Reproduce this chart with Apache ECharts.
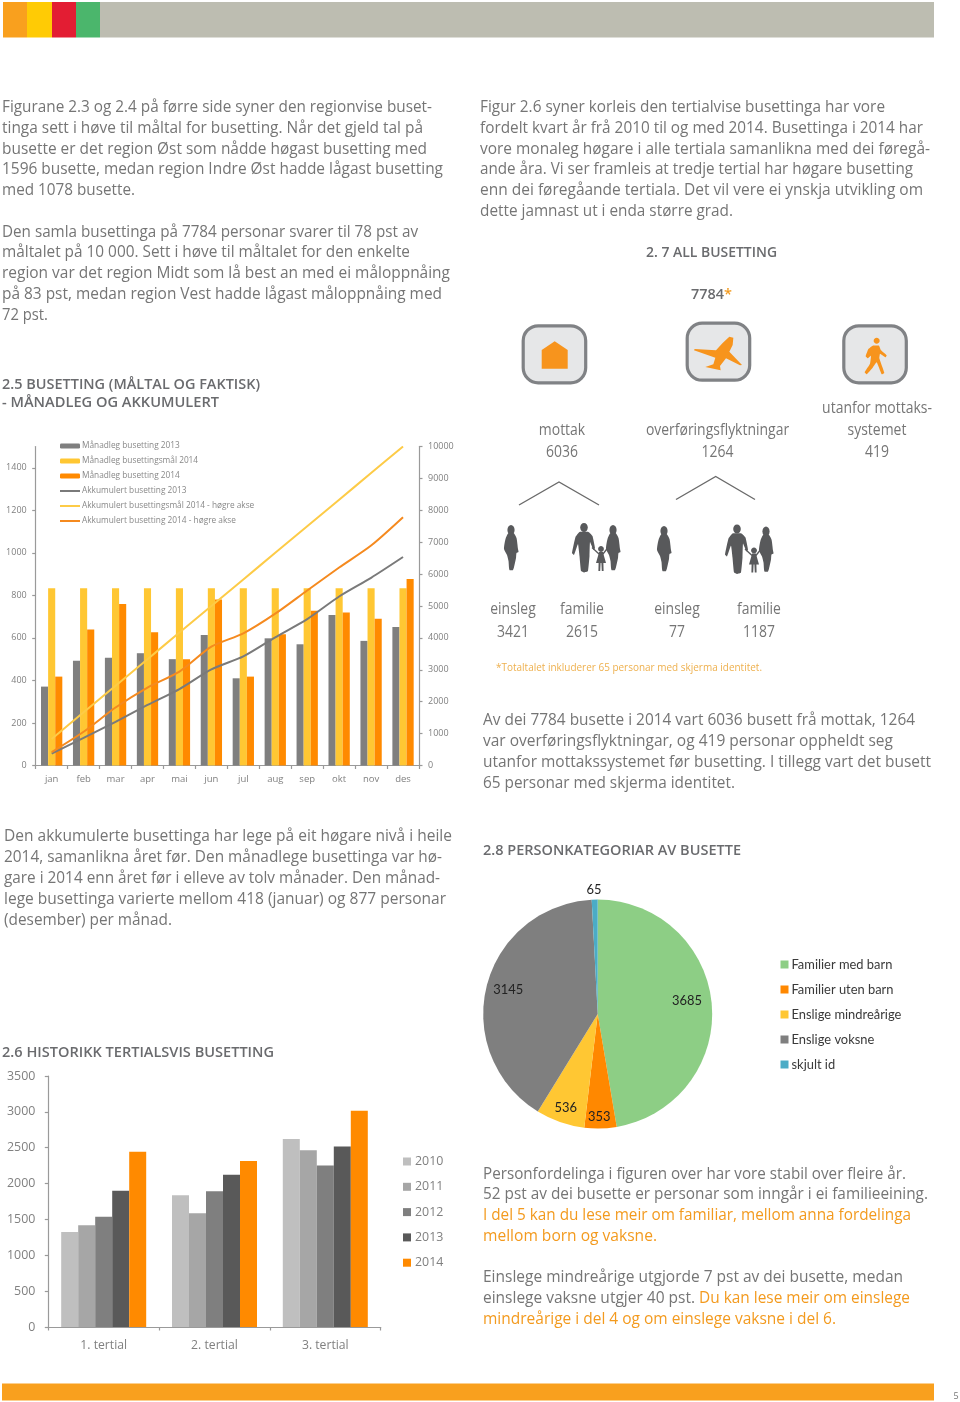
<!DOCTYPE html>
<html><head><meta charset="utf-8">
<style>html,body{margin:0;padding:0;background:#fff}#c{width:960px;height:1402px}</style>
<script src="https://cdn.jsdelivr.net/npm/echarts@6/dist/echarts.min.js"></script>
</head><body><div id="c"></div>
<script>
// ---------- data ----------
const months = ['jan','feb','mar','apr','mai','jun','jul','aug','sep','okt','nov','des'];
const monthly2013 = [371,492,507,528,500,614,410,598,570,708,586,651];
const goal2014 = [833,833,833,833,833,833,833,833,833,833,833,833];
const monthly2014 = [418,640,759,626,500,781,418,617,728,719,690,877];
const cumul2013 = [371,863,1370,1898,2398,3012,3422,4020,4590,5298,5884,6535];
const cumulGoal2014 = [833,1667,2500,3333,4167,5000,5833,6667,7500,8333,9167,10000];
const cumul2014 = [418,1058,1817,2443,2943,3724,4142,4759,5487,6206,6896,7784];
const leftTicks = [0,200,400,600,800,1000,1200,1400];

const tertials = ['1. tertial','2. tertial','3. tertial'];
const t2010 = [1326,1838,2620];
const t2011 = [1419,1587,2466];
const t2012 = [1536,1894,2252];
const t2013 = [1899,2122,2517];
const t2014 = [2443,2313,3015];

const pieNames = ['Familier med barn','Familier uten barn','Enslige mindreårige','Enslige voksne','skjult id'];
const pieValues = [3685,353,536,3145,65];

// ---------- text helpers ----------
const FF = '"Open Sans"';
const GREY = '#757575', HEAD = '#6a6b6e', ORANGE = '#f39a1e';
const DY = 1.3;
const cv = document.createElement('canvas').getContext('2d');
function fit(text, size, weight, width){
  cv.font = (weight||'normal') + ' ' + size + 'px ' + FF;
  return width / cv.measureText(text).width;
}
const bodyScale = fit('Figurane 2.3 og 2.4 på førre side syner den regionvise buset-', 15.5, 'normal', 430.5);
const noteScale = fit('*Totaltalet inkluderer 65 personar med skjerma identitet.', 11.5, 'normal', 266);
const midScale = bodyScale*0.91;

const els = [];
function T(text,x,y,size,opt){
  opt = opt||{};
  els.push({type:'text',x,y:y+DY,scaleX:opt.sx||1,silent:true,z:5,style:{
    text,fontSize:size,fontFamily:FF,fontWeight:opt.w||'normal',fill:opt.c||GREY,
    textAlign:opt.a||'left',textVerticalAlign:'middle'}});
}
const body = (t,x,y,end,c)=>T(t,x,y,15.5,{sx:fit(t,15.5,'normal',end-x),c});
const head = (t,x,y,end)=>T(t,x,y,14.5,{sx:fit(t,14.5,'600',end-x),w:'600',c:HEAD});
const mid = (t,x,y)=>T(t,x,y,15.5,{sx:midScale,a:'center'});

function R(x,y,w,h,fill){
  els.push({type:'rect',silent:true,z:1,shape:{x,y,width:w,height:h},style:{fill}});
}
function P(points,fill,smooth){
  els.push({type:'polygon',silent:true,z:3,shape:{points,smooth:smooth||0},style:{fill}});
}
function C(cx,cy,rx,ry,fill){
  els.push({type:'ellipse',silent:true,z:3,shape:{cx,cy,rx,ry},style:{fill}});
}
function L(points,color,w){
  els.push({type:'polyline',silent:true,z:3,shape:{points},style:{stroke:color,lineWidth:w,fill:null}});
}

// top + bottom bands
R(3,2,24,35.5,'#f9a01e'); R(27,2,25,35.5,'#ffcb05'); R(52,2,24,35.5,'#e31d33'); R(76,2,24,35.5,'#4bb66c');
R(100,2,834,35.5,'#bdbdb1');
R(2,1383.5,932,17,'#f9a01e');
T('5',956,1395,9,{c:'#777',a:'center'});

// paragraphs: text, y, right end of the line
[['Figurane 2.3 og 2.4 på førre side syner den regionvise buset-',106,432],
 ['tinga sett i høve til måltal for busetting. Når det gjeld tal på',127,423],
 ['busette er det region Øst som nådde høgast busetting med',148,427],
 ['1596 busette, medan region Indre Øst hadde lågast busetting',168.5,443],
 ['med 1078 busette.',189,135],
 ['Den samla busettinga på 7784 personar svarer til 78 pst av',231,418],
 ['måltalet på 10 000. Sett i høve til måltalet for den enkelte',251.5,410],
 ['region var det region Midt som lå best an med ei måloppnåing',272.5,450],
 ['på 83 pst, medan region Vest hadde lågast måloppnåing med',293,442],
 ['72 pst.',314,48]].forEach(l=>body(l[0],2,l[1],l[2]));
[['Figur 2.6 syner korleis den tertialvise busettinga har vore',106,885],
 ['fordelt kvart år frå 2010 til og med 2014. Busettinga i 2014 har',127,923],
 ['vore monaleg høgare i alle tertiala samanlikna med dei føregå-',148,930],
 ['ande åra. Vi ser framleis at tredje tertial har høgare busetting',168.5,913],
 ['enn dei føregåande tertiala. Det vil vere ei ynskja utvikling om',189,923],
 ['dette jamnast ut i enda større grad.',210,733]].forEach(l=>body(l[0],480,l[1],l[2]));
[['Av dei 7784 busette i 2014 vart 6036 busett frå mottak, 1264',719,915],
 ['var overføringsflyktningar, og 419 personar oppheldt seg',740,893],
 ['utanfor mottakssystemet før busetting. I tillegg vart det busett',761,931],
 ['65 personar med skjerma identitet.',782,735]].forEach(l=>body(l[0],483,l[1],l[2]));
[['Den akkumulerte busettinga har lege på eit høgare nivå i heile',835,452],
 ['2014, samanlikna året før. Den månadlege busettinga var hø-',856,442],
 ['gare i 2014 enn året før i elleve av tolv månader. Den månad-',877,440],
 ['lege busettinga varierte mellom 418 (januar) og 877 personar',898,446],
 ['(desember) per månad.',919,172]].forEach(l=>body(l[0],4,l[1],l[2]));
body('Personfordelinga i figuren over har vore stabil over fleire år.',483,1173,906);
body('52 pst av dei busette er personar som inngår i ei familieeining.',483,1193,928);
body('I del 5 kan du lese meir om familiar, mellom anna fordelinga',483,1214,911,ORANGE);
body('mellom born og vaksne.',483,1235,657,ORANGE);
body('Einslege mindreårige utgjorde 7 pst av dei busette, medan',483,1276,903);
body('einslege vaksne utgjer 40 pst.',483,1297,695);
body('Du kan lese meir om einslege',699,1297,910,ORANGE);
body('mindreårige i del 4 og om einslege vaksne i del 6.',483,1318,836,ORANGE);

// headings
head('2.5 BUSETTING (MÅLTAL OG FAKTISK)',2,384,260);
head('- MÅNADLEG OG AKKUMULERT',2,402,219);
head('2.6 HISTORIKK TERTIALSVIS BUSETTING',2,1052,274);
head('2.8 PERSONKATEGORIAR AV BUSETTE',483,850,741);
head('2. 7 ALL BUSETTING',646,252,777);
head('7784',691,294,724);
T('*',724,294,14.5,{w:'600',c:ORANGE});

// infographic text
mid('mottak',562,429); mid('6036',562,451);
mid('overføringsflyktningar',717.5,429); mid('1264',717.5,451);
mid('utanfor mottaks-',877,407); mid('systemet',877,429); mid('419',877,451);
mid('einsleg',513,608); mid('3421',513,631);
mid('familie',582,608); mid('2615',582,631);
mid('einsleg',677,608); mid('77',677,631);
mid('familie',759,608); mid('1187',759,631);
T('*Totaltalet inkluderer 65 personar med skjerma identitet.',496,666,11.5,{sx:noteScale,c:'#eeb04e'});

// tree lines
L([[519,505],[559,482],[599,505]],'#6a6a6a',1.4);
L([[676,499.5],[715.7,476.5],[755,499.5]],'#6a6a6a',1.4);

// icon frames
const frame = (x,y)=>els.push({type:'rect',silent:true,z:2,
  shape:{x,y,width:62.5,height:57,r:15},style:{fill:'#e6e7e8',stroke:'#808285',lineWidth:3.2}});
frame(523.2,325.8); frame(687.2,323.2); frame(843.8,325.8);
const IC = '#f7941d';
// house
P([[541.7,350],[554.7,341.3],[567.7,350],[567.7,368.7],[541.7,368.7]],IC);
// plane
const pl = a=>a.map(p=>[680+p[0]/3,315+p[1]/3]);
P(pl([[148,65],[160,68],[158,90],[148,110],[186,150],[180,151],[138,130],[124,148],[120,153],[122,166],[76,156],[100,148],[106,128],[42,106],[44,102],[108,106],[128,84]]),IC);
// walker
C(680+590/3,315+77/3,3,3,IC);
P(pl([[578,92],[597,92],[603,106],[620,121],[617,127],[600,116],[598,130],[613,174],[605,178],[590,142],[578,158],[560,178],[554,172],[570,146],[573,122],[563,130],[557,124],[565,102]]),IC,0.1);

// silhouettes
const SIL = '#58595b';
function woman(cx,top){
  C(cx,top+5,3.6,5,SIL);
  P([[-2.5,8],[2.5,8],[5.5,13],[7,24],[7.5,27],[5.5,28],[5,33],[3.5,40],[2,45],[-1.5,45],[-2.5,36],[-4,30],[-7,24],[-5.5,14]].map(p=>[cx+p[0],top+p[1]]),SIL,0.2);
}
function man(cx,top){
  C(cx,top+4.5,3.8,4.5,SIL);
  P([[-4.5,9],[4.5,9],[8.5,13],[11,25],[9.5,27],[6,19],[5.5,33],[4,48],[0,49.5],[-3,48],[-4.5,33],[-6,21],[-10,32],[-12,30],[-8.5,14]].map(p=>[cx+p[0],top+p[1]]),SIL,0.1);
}
function child(cx,top){
  C(cx,top+3,2.9,3,SIL);
  P([[-2,6],[2,6],[3,10],[5,17],[2.4,17],[2.6,25],[0.8,25],[0.4,17],[-0.4,17],[-0.8,25],[-2.6,25],[-2.4,17],[-5,17],[-3,10]].map(p=>[cx+p[0],top+p[1]]),SIL);
  L([[cx-2,top+8],[cx-9,top+1.5]],SIL,1.3);
  L([[cx+2,top+8],[cx+7,top+1.5]],SIL,1.3);
}
function family(dx,dy){ man(584+dx,523+dy); child(601+dx,546+dy); woman(613+dx,525+dy); }
woman(511,525); family(0,0);
woman(664,526); family(153,1.5);

// ---------- chart ----------
const AX = '#9a9a9a', LBL = '#808080';
const plain = v=>String(v);
const axisBase = {axisLine:{show:true,lineStyle:{color:AX,width:1.2}},axisTick:{show:true,length:3.5,lineStyle:{color:AX,width:1.2}},splitLine:{show:false}};
const lineIcon = 'path://M0 0L0 0ZM0 1.5L20 1.5L20 3.5L0 3.5ZM20 5L20 5Z';
const option = {
  animation:false,
  backgroundColor:'#fff',
  grid:[
    {left:35.7,top:446.5,width:383.3,height:319},
    {left:48.3,top:1076,width:332.4,height:251}
  ],
  xAxis:[
    Object.assign({},axisBase,{gridIndex:0,type:'category',data:months,axisLabel:{color:LBL,fontFamily:FF,fontSize:9.5,margin:9}}),
    Object.assign({},axisBase,{gridIndex:1,type:'category',data:tertials,axisLabel:{color:LBL,fontFamily:FF,fontSize:12.2,margin:13}})
  ],
  yAxis:[
    Object.assign({},axisBase,{gridIndex:0,type:'value',min:0,max:1500,
      axisTick:{show:true,length:3.5,lineStyle:{color:AX,width:1.2},customValues:leftTicks},
      axisLabel:{color:LBL,fontFamily:FF,fontSize:9,margin:9,customValues:leftTicks,formatter:plain}}),
    Object.assign({},axisBase,{gridIndex:0,type:'value',position:'right',min:0,max:10000,interval:1000,
      axisLabel:{color:LBL,fontFamily:FF,fontSize:9,margin:9,align:'left',formatter:plain}}),
    Object.assign({},axisBase,{gridIndex:1,type:'value',min:0,max:3500,interval:500,
      axisLabel:{color:LBL,fontFamily:FF,fontSize:12.4,margin:13,formatter:plain}})
  ],
  legend:[
    {left:60,top:441,orient:'vertical',padding:0,itemWidth:20,itemHeight:5,itemGap:5,
     data:['Månadleg busetting 2013','Månadleg busettingsmål 2014','Månadleg busetting 2014',
       {name:'Akkumulert busetting 2013',icon:lineIcon},
       {name:'Akkumulert busettingsmål 2014 - høgre akse',icon:lineIcon},
       {name:'Akkumulert busetting 2014 - høgre akse',icon:lineIcon}],
     textStyle:{color:'#888',fontFamily:FF,fontSize:8.3,lineHeight:10,padding:[0,0,0,-3]}},
    {left:403,top:1153.5,orient:'vertical',padding:0,itemWidth:8,itemHeight:8,itemGap:9.3,icon:'rect',
     data:['2010','2011','2012','2013','2014'],
     textStyle:{color:LBL,fontFamily:FF,fontSize:12.4,lineHeight:16,padding:[0,0,0,-1]}},
    {left:780.5,top:956.5,orient:'vertical',padding:0,itemWidth:8,itemHeight:8,itemGap:9,icon:'rect',
     data:pieNames,
     textStyle:{color:'#3a3a3a',fontFamily:'Lato',fontSize:12.9,lineHeight:16,padding:[0,0,0,-2]}}
  ],
  series:[
    {name:'Månadleg busetting 2013',type:'bar',xAxisIndex:0,yAxisIndex:0,data:monthly2013,barWidth:7.1,barGap:'0%',itemStyle:{color:'#7f7f7f'}},
    {name:'Månadleg busettingsmål 2014',type:'bar',xAxisIndex:0,yAxisIndex:0,data:goal2014,barWidth:7.1,barGap:'0%',itemStyle:{color:'#ffc733'}},
    {name:'Månadleg busetting 2014',type:'bar',xAxisIndex:0,yAxisIndex:0,data:monthly2014,barWidth:7.1,barGap:'0%',itemStyle:{color:'#ff8a00'}},
    {name:'Akkumulert busetting 2013',type:'line',xAxisIndex:0,yAxisIndex:1,data:cumul2013,smooth:0.25,symbol:'none',lineStyle:{color:'#7a7a7a',width:2},itemStyle:{color:'#7a7a7a'}},
    {name:'Akkumulert busettingsmål 2014 - høgre akse',type:'line',xAxisIndex:0,yAxisIndex:1,data:cumulGoal2014,smooth:0.25,symbol:'none',lineStyle:{color:'#fdcb47',width:2},itemStyle:{color:'#fdcb47'}},
    {name:'Akkumulert busetting 2014 - høgre akse',type:'line',xAxisIndex:0,yAxisIndex:1,data:cumul2014,smooth:0.25,symbol:'none',lineStyle:{color:'#f58a1f',width:2},itemStyle:{color:'#f58a1f'}},

    {name:'2010',type:'bar',xAxisIndex:1,yAxisIndex:2,data:t2010,barWidth:17,barGap:'0%',itemStyle:{color:'#bfbfbf'}},
    {name:'2011',type:'bar',xAxisIndex:1,yAxisIndex:2,data:t2011,barWidth:17,barGap:'0%',itemStyle:{color:'#a6a6a6'}},
    {name:'2012',type:'bar',xAxisIndex:1,yAxisIndex:2,data:t2012,barWidth:17,barGap:'0%',itemStyle:{color:'#7f7f7f'}},
    {name:'2013',type:'bar',xAxisIndex:1,yAxisIndex:2,data:t2013,barWidth:17,barGap:'0%',itemStyle:{color:'#595959'}},
    {name:'2014',type:'bar',xAxisIndex:1,yAxisIndex:2,data:t2014,barWidth:17,barGap:'0%',itemStyle:{color:'#ff8a00'}},

    {name:'Personkategoriar',type:'pie',center:[597.7,1014],radius:[0,114.5],startAngle:90,clockwise:true,
     color:['#8dce85','#ff8800','#ffc733','#7f7f7f','#4bacc6'],
     data:pieNames.map((name,i)=>({name,value:pieValues[i]})),
     label:{show:true,position:'inside',formatter:'{c}',color:'#222',fontFamily:'Lato',fontSize:12.9},
     labelLine:{show:false},
     emphasis:{disabled:true},
     labelLayout:function(p){
       const spots=[[687,1001],[599.3,1116.5],[565.7,1108],[508.3,989.5],[594,889.5]];
       const s=spots[p.dataIndex];
       return {x:s[0],y:s[1],align:'center',verticalAlign:'middle'};
     }}
  ],
  graphic:{elements:els}
};
const chart = echarts.init(document.getElementById('c'),null,{width:960,height:1402});
chart.setOption(option);
</script></body></html>
